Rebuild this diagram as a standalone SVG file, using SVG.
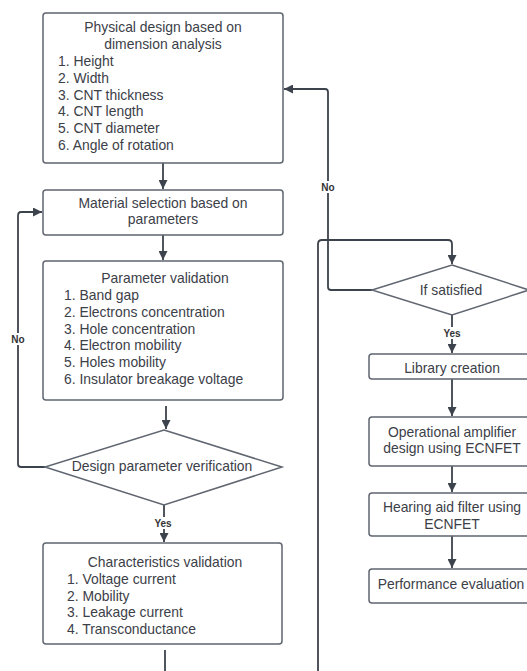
<svg xmlns="http://www.w3.org/2000/svg" width="527" height="671" viewBox="0 0 527 671">
<style>
.box{fill:#fff;stroke:#5f6670;stroke-width:1.5}
.t{font-family:"Liberation Sans",Arial,sans-serif;font-size:13.9px;fill:#3c4048}
.c{text-anchor:middle}
.ln{fill:none;stroke:#3d434c;stroke-width:1.8}
.lb{font-family:"Liberation Sans",Arial,sans-serif;font-size:10px;font-weight:bold;fill:#333;text-anchor:middle}
</style>
<defs>
<marker id="ah" viewBox="0 0 10 10" refX="10" refY="5" markerWidth="5" markerHeight="5" orient="auto" markerUnits="strokeWidth">
<path d="M0,0 L10,5 L0,10 z" fill="#3d434c"/>
</marker>
</defs>
<rect width="527" height="671" fill="#fff"/>
<g id="connectors">
<path class="ln" d="M163,163 V189" marker-end="url(#ah)"/>
<path class="ln" d="M163,235 V260" marker-end="url(#ah)"/>
<path class="ln" d="M166,406 V429" marker-end="url(#ah)"/>
<path class="ln" d="M45,467 H21 Q18,467 18,464 V216 Q18,212 21,212 H42" marker-end="url(#ah)"/>
<path class="ln" d="M164,505 V542" marker-end="url(#ah)"/>
<path class="ln" d="M165,650 V671"/>
<path class="ln" d="M318,671 V244 Q318,240 322,240 H448 Q452,240 452,244 V264" marker-end="url(#ah)"/>
<path class="ln" d="M372,290 H331 Q328,290 328,287 V92 Q328,89 325,89 H284" marker-end="url(#ah)"/>
<path class="ln" d="M452,315 V353" marker-end="url(#ah)"/>
<path class="ln" d="M452,379 V416" marker-end="url(#ah)"/>
<path class="ln" d="M452,466 V492" marker-end="url(#ah)"/>
<path class="ln" d="M452,536 V568" marker-end="url(#ah)"/>
<rect x="9" y="333" width="18" height="12" fill="#fff"/>
<text class="lb" x="18" y="343">No</text>
<rect x="319" y="181" width="18" height="12" fill="#fff"/>
<text class="lb" x="328" y="191">No</text>
<rect x="151" y="517" width="24" height="12" fill="#fff"/>
<text class="lb" x="163" y="527">Yes</text>
<rect x="440" y="327" width="24" height="12" fill="#fff"/>
<text class="lb" x="452" y="337">Yes</text>
</g>
<g id="n1">
<rect class="box" x="43" y="13" width="240" height="150" rx="3"/>
<text class="t c" x="163" y="32">Physical design based on</text>
<text class="t c" x="163" y="49">dimension analysis</text>
<text class="t" x="58" y="66">1. Height</text>
<text class="t" x="58" y="83">2. Width</text>
<text class="t" x="58" y="100">3. CNT thickness</text>
<text class="t" x="58" y="116">4. CNT length</text>
<text class="t" x="58" y="133">5. CNT diameter</text>
<text class="t" x="58" y="150">6. Angle of rotation</text>
</g>
<g id="n2">
<rect class="box" x="43" y="190" width="240" height="45" rx="3"/>
<text class="t c" x="163" y="208">Material selection based on</text>
<text class="t c" x="163" y="224">parameters</text>
</g>
<g id="n3">
<rect class="box" x="43" y="261" width="240" height="139" rx="3"/>
<text class="t c" x="165" y="283">Parameter validation</text>
<text class="t" x="64" y="300">1. Band gap</text>
<text class="t" x="64" y="317">2. Electrons concentration</text>
<text class="t" x="64" y="334">3. Hole concentration</text>
<text class="t" x="64" y="350">4. Electron mobility</text>
<text class="t" x="64" y="367">5. Holes mobility</text>
<text class="t" x="64" y="384">6. Insulator breakage voltage</text>
</g>
<g id="n4">
<polygon class="box" points="164,430 282,467 164,505 45,467"/>
<text class="t c" x="162" y="471">Design parameter verification</text>
</g>
<g id="n5">
<rect class="box" x="43" y="543" width="239" height="101" rx="3"/>
<text class="t c" x="165" y="567">Characteristics validation</text>
<text class="t" x="67" y="584">1. Voltage current</text>
<text class="t" x="67" y="601">2. Mobility</text>
<text class="t" x="67" y="617">3. Leakage current</text>
<text class="t" x="67" y="634">4. Transconductance</text>
</g>
<g id="n6">
<polygon class="box" points="452,265 529,290 452,315 372,290"/>
<text class="t c" x="451" y="295">If satisfied</text>
</g>
<g id="n7">
<rect class="box" x="369" y="354" width="166" height="25" rx="3"/>
<text class="t c" x="452" y="373">Library creation</text>
</g>
<g id="n8">
<rect class="box" x="369" y="417" width="166" height="49" rx="3"/>
<text class="t c" x="452" y="437">Operational amplifier</text>
<text class="t c" x="452" y="453">design using ECNFET</text>
</g>
<g id="n9">
<rect class="box" x="369" y="493" width="166" height="43" rx="3"/>
<text class="t c" x="452" y="512">Hearing aid filter using</text>
<text class="t c" x="452" y="529">ECNFET</text>
</g>
<g id="n10">
<rect class="box" x="369" y="569" width="166" height="34" rx="3"/>
<text class="t c" x="451" y="589">Performance evaluation</text>
</g>
</svg>
